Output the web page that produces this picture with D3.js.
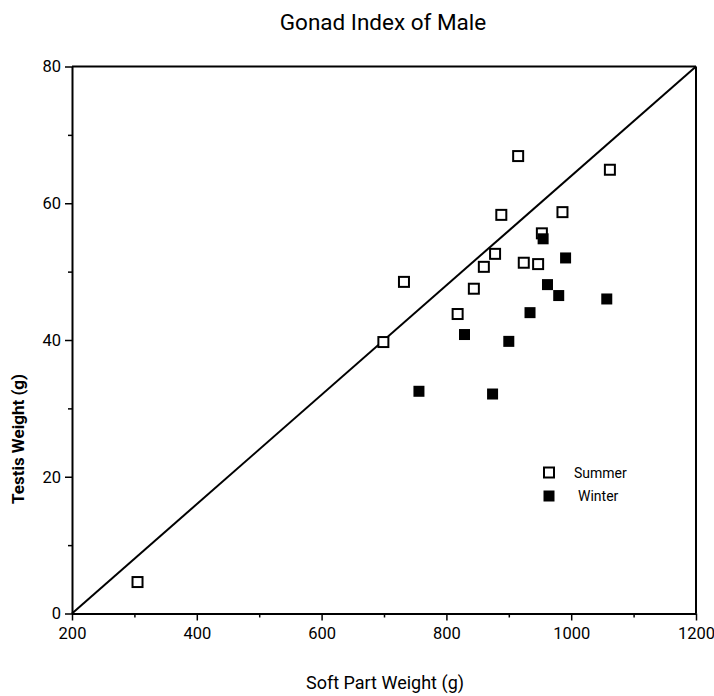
<!DOCTYPE html>
<html><head><meta charset="utf-8">
<script src="https://cdn.jsdelivr.net/npm/d3@7"></script>
<style>body{margin:0;background:#fff}svg{display:block}</style>
</head><body><svg id="c" width="714" height="696"></svg>
<script>
const summerX=[305,699,732,818,844,860,878,888,915,924,947,953,986,1062];
const summerY=[4.6,39.7,48.5,43.8,47.5,50.7,52.6,58.3,66.9,51.3,51.1,55.6,58.7,64.9];
const winterX=[756,829,874,900,934,955,962,980,991,1057];
const winterY=[32.5,40.8,32.1,39.8,44.0,54.8,48.1,46.5,52.0,46.0];
const xTicks=[200,400,600,800,1000,1200];
const xMinor=[300,500,700,900,1100];
const yTicks=[0,20,40,60,80];
const yMinor=[10,30,50,70];
const diagX=[200,1200];
const diagY=[0,80];
const legendLabels=["Summer","Winter"];

const FONT="Roboto, 'DejaVu Sans', sans-serif";
const svg=d3.select("#c");
const x=d3.scaleLinear().domain([200,1200]).range([72,696]);
const y=d3.scaleLinear().domain([0,80]).range([613.5,66.5]);

// title
svg.append("text").attr("x",383).attr("y",30).attr("text-anchor","middle")
  .style("font-family",FONT).style("font-size","22.5px").text("Gonad Index of Male");

// frame top & right
svg.append("line").attr("x1",x(200)).attr("x2",x(1200)).attr("y1",y(80)).attr("y2",y(80)).attr("stroke","#000").attr("stroke-width",2);
svg.append("line").attr("x1",x(1200)).attr("x2",x(1200)).attr("y1",y(80)).attr("y2",y(0)).attr("stroke","#000").attr("stroke-width",2);

// axes
const gx=svg.append("g").attr("transform",`translate(0,${y(0)})`)
  .call(d3.axisBottom(x).tickValues(xTicks).tickSize(7).tickSizeOuter(0).tickPadding(4).tickFormat(d3.format("d")));
const gxm=svg.append("g").attr("transform",`translate(0,${y(0)})`)
  .call(d3.axisBottom(x).tickValues(xMinor).tickSize(4).tickFormat(""));
gxm.select(".domain").remove();
const gy=svg.append("g").attr("transform",`translate(${x(200)},0)`)
  .call(d3.axisLeft(y).tickValues(yTicks).tickSize(7).tickSizeOuter(0).tickPadding(4));
const gym=svg.append("g").attr("transform",`translate(${x(200)},0)`)
  .call(d3.axisLeft(y).tickValues(yMinor).tickSize(4).tickFormat(""));
gym.select(".domain").remove();
svg.selectAll(".domain").attr("stroke-width",2).attr("stroke","#000");
svg.selectAll(".tick line").attr("stroke-width",1.5).attr("stroke","#000");
svg.selectAll(".tick text").style("font-family",FONT).style("font-size","16.5px").attr("fill","#000");
gx.selectAll(".tick text").attr("dy","0.85em");

// axis labels
svg.append("text").attr("x",385).attr("y",689).attr("text-anchor","middle")
  .style("font-family",FONT).style("font-size","18px").text("Soft Part Weight (g)");
svg.append("text").attr("transform","translate(24,439) rotate(-90)").attr("text-anchor","middle")
  .style("font-family",FONT).style("font-size","17px").style("font-weight","bold").text("Testis Weight (g)");

// diagonal
svg.append("line").attr("x1",x(diagX[0])).attr("y1",y(diagY[0])).attr("x2",x(diagX[1])).attr("y2",y(diagY[1]))
  .attr("stroke","#000").attr("stroke-width",2);

const S=10;
const summer=summerX.map((v,i)=>({x:v,y:summerY[i]}));
const winter=winterX.map((v,i)=>({x:v,y:winterY[i]}));
svg.append("g").selectAll("rect").data(summer).join("rect")
  .attr("x",d=>x(d.x)-S/2).attr("y",d=>y(d.y)-S/2).attr("width",S).attr("height",S)
  .attr("fill","#fff").attr("stroke","#000").attr("stroke-width",2);
svg.append("g").selectAll("rect").data(winter).join("rect")
  .attr("x",d=>x(d.x)-(S+1)/2).attr("y",d=>y(d.y)-(S+1)/2).attr("width",S+1).attr("height",S+1)
  .attr("fill","#000");

// legend
const lg=svg.append("g");
lg.append("rect").attr("x",549-5).attr("y",472.5-5).attr("width",S).attr("height",S).attr("fill","#fff").attr("stroke","#000").attr("stroke-width",2);
lg.append("rect").attr("x",549-5.5).attr("y",496-5.5).attr("width",S+1).attr("height",S+1).attr("fill","#000");
lg.append("text").attr("x",574).attr("y",477.5).style("font-family",FONT).style("font-size","14px").text(legendLabels[0]);
lg.append("text").attr("x",578).attr("y",501).style("font-family",FONT).style("font-size","14px").text(legendLabels[1]);
</script></body></html>
